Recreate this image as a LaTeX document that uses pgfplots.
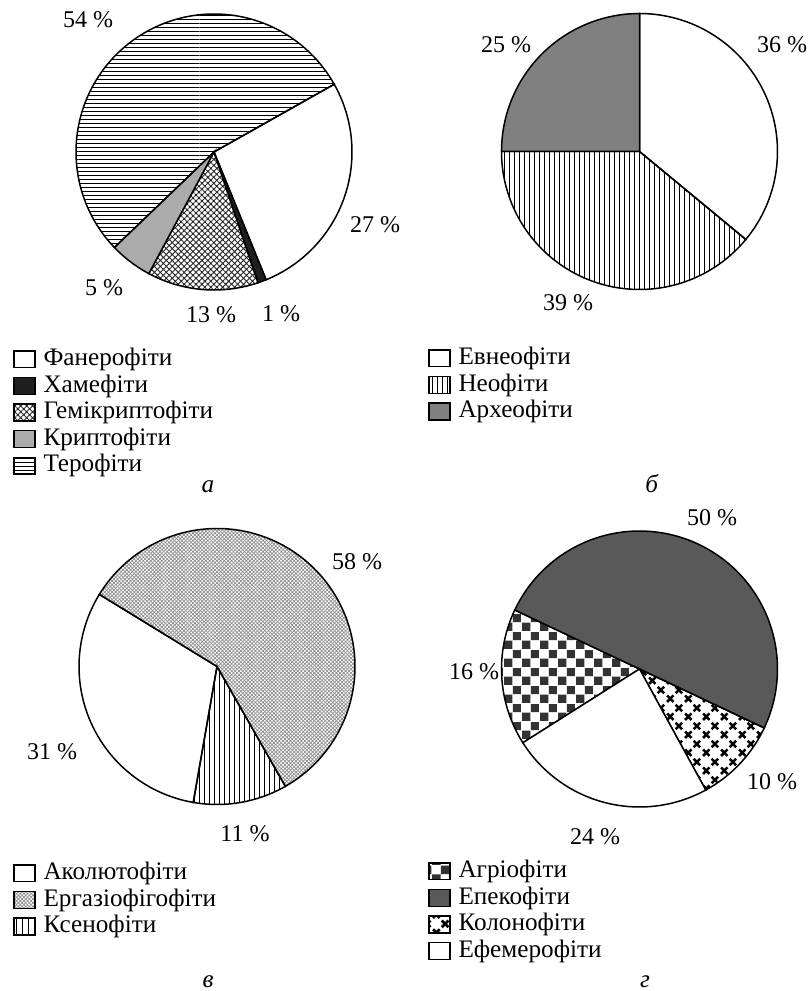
\documentclass[border=0pt]{standalone}
\usepackage{fontspec}
\setmainfont{Liberation Serif}
\usepackage{pgfplots}
\pgfplotsset{compat=1.18}
\usetikzlibrary{patterns,patterns.meta}

% checkerboard pattern (Agriophytes)
\pgfdeclarepatternformonly{checker}{\pgfqpoint{0pt}{0pt}}{\pgfqpoint{9pt}{9pt}}{\pgfqpoint{9pt}{9pt}}{%
  \pgfpathrectangle{\pgfqpoint{0.1pt}{0.1pt}}{\pgfqpoint{4.3pt}{4.3pt}}%
  \pgfpathrectangle{\pgfqpoint{4.6pt}{4.6pt}}{\pgfqpoint{4.3pt}{4.3pt}}%
  \pgfusepath{fill}}
% small crosses pattern (Colonophytes)
\pgfdeclarepatternformonly{xcross}{\pgfqpoint{0pt}{0pt}}{\pgfqpoint{9pt}{9pt}}{\pgfqpoint{9pt}{9pt}}{%
  \pgfsetlinewidth{1.3pt}%
  \pgfpathmoveto{\pgfqpoint{0.55pt}{0.55pt}}\pgfpathlineto{\pgfqpoint{3.95pt}{3.95pt}}%
  \pgfpathmoveto{\pgfqpoint{0.55pt}{3.95pt}}\pgfpathlineto{\pgfqpoint{3.95pt}{0.55pt}}%
  \pgfpathmoveto{\pgfqpoint{5.05pt}{5.05pt}}\pgfpathlineto{\pgfqpoint{8.45pt}{8.45pt}}%
  \pgfpathmoveto{\pgfqpoint{5.05pt}{8.45pt}}\pgfpathlineto{\pgfqpoint{8.45pt}{5.05pt}}%
  \pgfusepath{stroke}}
% horizontal / vertical line patterns
\pgfdeclarepatternformonly{hlinesA}{\pgfpointorigin}{\pgfqpoint{100pt}{2.1pt}}{\pgfqpoint{100pt}{2.1pt}}{%
  \pgfpathrectangle{\pgfpointorigin}{\pgfqpoint{100pt}{0.5pt}}\pgfusepath{fill}}
\pgfdeclarepatternformonly{vlinesB}{\pgfpointorigin}{\pgfqpoint{2.25pt}{100pt}}{\pgfqpoint{2.25pt}{100pt}}{%
  \pgfpathrectangle{\pgfpointorigin}{\pgfqpoint{0.5pt}{100pt}}\pgfusepath{fill}}
\pgfdeclarepatternformonly{vlinesC}{\pgfpointorigin}{\pgfqpoint{2.7pt}{100pt}}{\pgfqpoint{2.7pt}{100pt}}{%
  \pgfpathrectangle{\pgfpointorigin}{\pgfqpoint{0.45pt}{100pt}}\pgfusepath{fill}}

\newcommand\lfont{\fontsize{12.6}{13.3}\selectfont}
\newcommand\pfont{\fontsize{12}{13}\selectfont}

% pie slices: percentages as data, drawn clockwise from a start angle
\newcommand\piestart[1]{\xdef\curang{#1}}
\newcommand\pieslice[2]{%
  \pgfmathsetmacro\angB{\curang}%
  \pgfmathsetmacro\angA{\curang-3.6*#1}%
  \pgfmathtruncatemacro\nseg{max(2,ceil(3.6*#1/2))}%
  \pgfmathsetmacro\angstep{(\angB-\angA)/\nseg}%
  \xdef\slicepts{(0,0)}%
  \foreach \k in {0,...,\nseg}{%
    \pgfmathsetmacro\ang{\angA+\angstep*\k}%
    \xdef\slicepts{\slicepts\space(\ang,1)}%
  }%
  \xdef\curang{\angA}%
  \edef\doslice{\noexpand\addplot[draw=black,line width=0.75pt,mark=none,\unexpanded{#2}] coordinates {\slicepts\space(0,0)} -- cycle;}%
  \doslice
}

\pgfplotsset{pieaxis/.style={
  hide axis, scale only axis, width=138pt, height=138pt,
  xmin=-1, xmax=1, ymin=-1, ymax=1, data cs=polar,
  anchor=center, clip=false,
  legend cell align=left,
  legend image code/.code={\draw[##1] (0pt,-3.6pt) rectangle (10.5pt,4.8pt);},
  legend style={draw=none, fill=none, inner sep=0pt, outer sep=0pt,
    anchor=north west, font=\lfont, row sep=2.3pt, column sep=4pt,
    nodes={inner sep=0pt, text height=8pt, text depth=3pt}},
}}

\begin{document}
\begin{tikzpicture}[font=\pfont]
\useasboundingbox (0pt,0pt) rectangle (406pt,495.5pt);

% ---------------- a ----------------
\begin{axis}[pieaxis, at={(107pt,419.5pt)}, legend style={at={(axis cs:-1.4565,-1.431)}}]
\piestart{29.4}
\pieslice{27}{fill=white}
\addlegendentry{Фанерофіти}
\pieslice{1}{fill=black!88}
\addlegendentry{Хамефіти}
\pieslice{13}{pattern={Hatch[angle=45,distance=2.1pt,line width=0.45pt]},pattern color=black!85}
\addlegendentry{Гемікриптофіти}
\pieslice{5}{fill=black!33}
\addlegendentry{Криптофіти}
\pieslice{54}{pattern=hlinesA,pattern color=black}
\addlegendentry{Терофіти}
\end{axis}

% ---------------- б ----------------
\begin{axis}[pieaxis, at={(319.75pt,419.75pt)}, legend style={at={(axis cs:-1.5326,-1.4275)}}]
\piestart{90}
\pieslice{36}{fill=white}
\addlegendentry{Евнеофіти}
\pieslice{39}{pattern=vlinesB,pattern color=black}
\addlegendentry{Неофіти}
\pieslice{25}{fill=black!50}
\addlegendentry{Археофіти}
\end{axis}

% ---------------- в ----------------
\begin{axis}[pieaxis, at={(108.5pt,162.25pt)}, legend style={at={(axis cs:-1.478,-1.4275)}}]
\piestart{260.1}
\pieslice{31}{fill=white}
\addlegendentry{Аколютофіти}
\pieslice{58}{pattern={Hatch[angle=45,distance=1.3pt,line width=0.35pt]},pattern color=black!45}
\addlegendentry{Ергазіофігофіти}
\pieslice{11}{pattern=vlinesC,pattern color=black}
\addlegendentry{Ксенофіти}
\end{axis}

% ---------------- г ----------------
\begin{axis}[pieaxis, at={(319.75pt,161pt)}, legend style={at={(axis cs:-1.5326,-1.395)}}]
\piestart{212.3}
\pieslice{16}{pattern=checker,pattern color=black!80}
\addlegendentry{Агріофіти}
\pieslice{50}{fill=black!65}
\addlegendentry{Епекофіти}
\pieslice{10}{pattern=xcross,pattern color=black}
\addlegendentry{Колонофіти}
\pieslice{24}{fill=white}
\addlegendentry{Ефемерофіти}
\end{axis}

% percentage labels
\node at (44pt,485.5pt) {54 \%};
\node at (187.5pt,383pt) {27 \%};
\node at (52pt,351.5pt) {5 \%};
\node at (105.5pt,338pt) {13 \%};
\node at (140.5pt,338.5pt) {1 \%};
\node at (253pt,473pt) {25 \%};
\node at (391pt,473pt) {36 \%};
\node at (284pt,344pt) {39 \%};
\node at (178.5pt,214.5pt) {58 \%};
\node at (26pt,119.5pt) {31 \%};
\node at (122.5pt,78.5pt) {11 \%};
\node at (356pt,236.5pt) {50 \%};
\node at (237pt,159.5pt) {16 \%};
\node at (386pt,104.5pt) {10 \%};
\node at (297.5pt,77pt) {24 \%};

% panel captions
\node[anchor=base, inner sep=0pt] at (104pt,249pt) {\lfont\textit{а}};
\node[anchor=base, inner sep=0pt] at (326pt,249pt) {\lfont\textit{б}};
\node[anchor=base, inner sep=0pt] at (104pt,1.8pt) {\lfont\textit{в}};
\node[anchor=base, inner sep=0pt] at (322.5pt,1.8pt) {\lfont\textit{г}};
\end{tikzpicture}
\end{document}
